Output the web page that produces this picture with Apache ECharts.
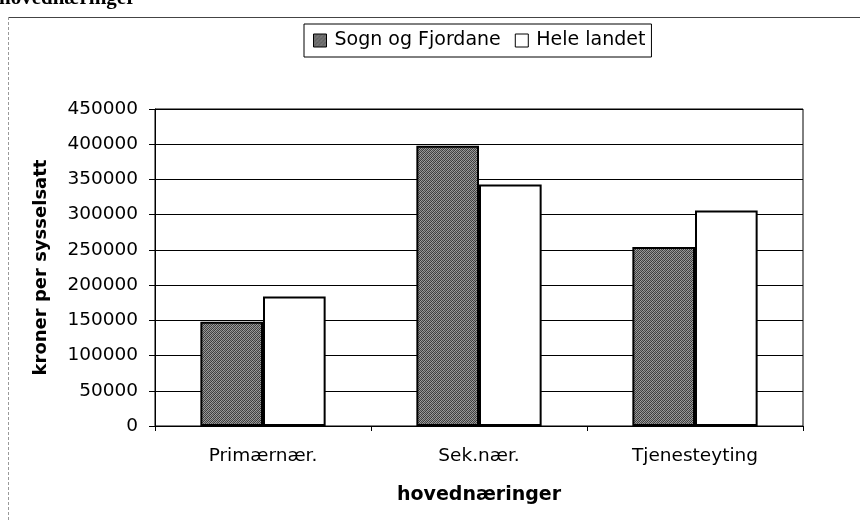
<!DOCTYPE html>
<html>
<head>
<meta charset="utf-8">
<script src="https://cdn.jsdelivr.net/npm/echarts@6/dist/echarts.min.js"></script>
<style>
  html, body { margin: 0; padding: 0; background: #fff; }
  #chart { width: 860px; height: 520px; }
</style>
</head>
<body>
<div id="chart"></div>
<script>
const categories = ['Primærnær.', 'Sek.nær.', 'Tjenesteyting'];
const sognOgFjordane = [148000, 398000, 254000];
const heleLandet = [184000, 343000, 306000];
const seriesNames = ['Sogn og Fjordane', 'Hele landet'];

// stippled grey fill, like the scanned print
function makeStipple() {
  const c = document.createElement('canvas');
  c.width = 4; c.height = 4;
  const ctx = c.getContext('2d');
  const px = [
    '#3a3a3a', '#9c9c9c', '#4a4a4a', '#8a8a8a',
    '#a4a4a4', '#444444', '#929292', '#363636',
    '#505050', '#888888', '#3c3c3c', '#a0a0a0',
    '#949494', '#3e3e3e', '#9a9a9a', '#4c4c4c'
  ];
  for (let i = 0; i < 16; i++) {
    ctx.fillStyle = px[i];
    ctx.fillRect(i % 4, Math.floor(i / 4), 1, 1);
  }
  return c;
}
const stipple = { image: makeStipple(), repeat: 'repeat' };

const font = 'DejaVu Sans';
let myChart = echarts.init(document.getElementById('chart'));

let option = {
  animation: false,
  backgroundColor: '#fff',
  graphic: [
    { type: 'line', shape: { x1: 8, y1: 17.5, x2: 860, y2: 17.5 }, style: { stroke: '#444', lineWidth: 1 } },
    { type: 'line', shape: { x1: 8.5, y1: 17, x2: 8.5, y2: 520 }, style: { stroke: '#999', lineWidth: 1, lineDash: [3, 2] } },
    // title of the page, cut off by the top edge of the scan
    { type: 'text', x: -1, y: 9, style: { text: 'hovednæringer', font: 'bold 21px "Liberation Serif"', fill: '#000', verticalAlign: 'bottom' } }
  ],
  legend: {
    left: 304,
    top: 24,
    padding: [7, 6, 7, 9],
    itemGap: 14,
    itemWidth: 13,
    itemHeight: 13,
    borderColor: '#000',
    borderWidth: 1,
    icon: 'rect',
    itemStyle: { borderColor: '#000', borderWidth: 1 },
    textStyle: { fontFamily: font, fontSize: 19, color: '#000', padding: [0, 0, 0, 3] },
    data: seriesNames
  },
  grid: {
    left: 155, right: 57, top: 109, bottom: 94,
    show: true, borderColor: '#000', borderWidth: 1
  },
  xAxis: {
    type: 'category',
    data: categories,
    name: 'hovednæringer',
    nameLocation: 'middle',
    nameGap: 60,
    nameTextStyle: { fontFamily: font, fontSize: 19, fontWeight: 'bold', color: '#000' },
    axisLine: { lineStyle: { color: '#000', width: 1 } },
    axisTick: { show: true, length: 5, lineStyle: { color: '#000' } },
    axisLabel: { fontFamily: font, fontSize: 18.5, color: '#000', margin: 21 }
  },
  yAxis: {
    type: 'value',
    min: 0,
    max: 450000,
    interval: 50000,
    name: 'kroner per sysselsatt',
    nameLocation: 'middle',
    nameGap: 105,
    nameTextStyle: { fontFamily: font, fontSize: 18, fontWeight: 'bold', color: '#000', padding: [0, 0, 0, 0] },
    axisLine: { show: true, lineStyle: { color: '#000', width: 1 } },
    axisTick: { show: true, length: 6, lineStyle: { color: '#000' } },
    axisLabel: { fontFamily: font, fontSize: 18.5, color: '#000', margin: 17, formatter: v => String(v) },
    splitLine: { show: true, lineStyle: { color: '#000', width: 1 } }
  },
  series: [
    {
      name: seriesNames[0],
      type: 'bar',
      data: sognOgFjordane,
      barGap: '0%',
      barCategoryGap: '42%',
      itemStyle: { color: stipple, borderColor: '#000', borderWidth: 2 }
    },
    {
      name: seriesNames[1],
      type: 'bar',
      data: heleLandet,
      itemStyle: { color: '#fff', borderColor: '#000', borderWidth: 2 }
    }
  ]
};

myChart.setOption(option);
</script>
</body>
</html>
